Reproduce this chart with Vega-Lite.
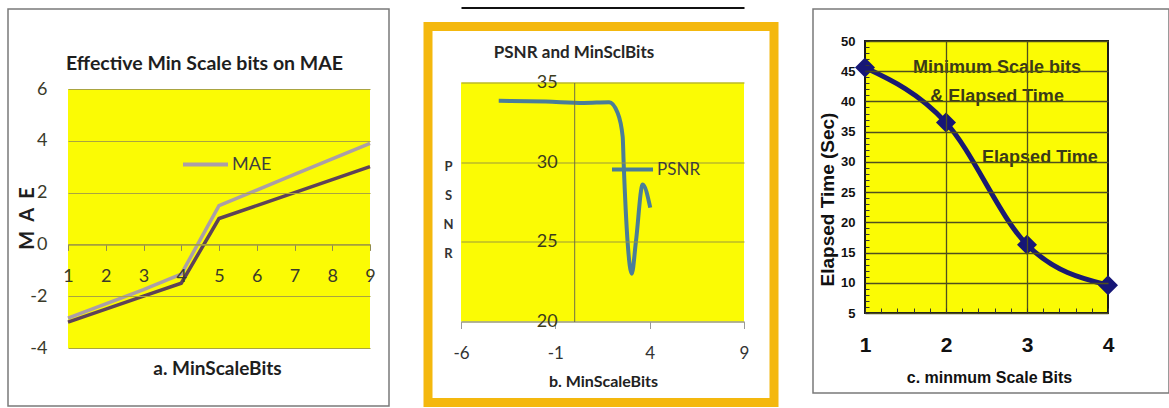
{
  "$schema": "https://vega.github.io/schema/vega-lite/v6.json",
  "background": "#ffffff",
  "padding": {"left": 7, "top": 3, "right": 0, "bottom": 0},
  "spacing": 33,
  "resolve": {"scale": {"color": "independent"}, "legend": {"color": "independent"}},
  "config": {
    "view": {"stroke": null},
    "axis": {"labelFlush": false, "labelOverlap": false}
  },
  "hconcat": [
    {
      "width": 381,
      "height": 397,
      "view": {"fill": "#ffffff", "stroke": "#7a7a7a", "strokeWidth": 1.5},
      "title": {"text": "Effective Min Scale bits on MAE", "frame": "group", "anchor": "middle", "dx": 6, "offset": -74, "baseline": "middle", "font": "Lato", "fontSize": 19.5, "fontWeight": "bold", "color": "#1e1e1e"},
      "encoding": {
        "x": {"field": "bits", "type": "quantitative",
          "scale": {"domain": [1, 9], "range": [60, 362], "nice": false, "zero": false},
          "axis": {"title": "a. MinScaleBits", "zindex": 1, "offset": -161.6, "values": [1, 2, 3, 4, 5, 6, 7, 8, 9], "grid": false,
            "domainColor": "#a39e3c", "domainWidth": 1.5, "tickColor": "#8f8a50", "tickSize": 6, "tickWidth": 1,
            "labelPadding": 17, "labelFont": "Lato", "labelFontSize": 18, "labelColor": "#3a3a2a", "labelExpr": "datum.value + ''",
            "titleFont": "Lato", "titleFontSize": 19, "titleFontWeight": "bold", "titleColor": "#1e1e1e",
            "titleX": 209, "titleY": 124, "titleBaseline": "middle"}},
        "y": {"field": "mae", "type": "quantitative",
          "scale": {"domain": [-4, 6], "range": [339, 80], "nice": false, "zero": false},
          "axis": {"title": "M\u00a0\u00a0A\u00a0\u00a0E", "zindex": 1, "offset": -60, "values": [-4, -2, 0, 2, 4, 6], "grid": true, "gridColor": "#aaa441", "gridWidth": 1.2,
            "domain": false, "ticks": false, "labelPadding": 21, "labelFont": "Lato", "labelFontSize": 18, "labelColor": "#3a3a2a", "labelExpr": "datum.value + ''",
            "titleFont": "Lato", "titleFontSize": 20, "titleFontWeight": "bold", "titleColor": "#1e1e1e",
            "titleX": -41, "titleY": 209, "titleBaseline": "middle"}}
      },
      "layer": [
        {
          "data": {"values": [{"bits": 1, "bits2": 9, "mae": -4, "mae2": 6}]},
          "mark": {"type": "rect", "fill": "#fbfb04"},
          "encoding": {"x2": {"field": "bits2"}, "y2": {"field": "mae2"}}
        },
        {
          "data": {"values": [
            {"series": "MAE", "bits": 1, "mae": -2.85},
            {"series": "MAE", "bits": 2, "mae": -2.3},
            {"series": "MAE", "bits": 3, "mae": -1.75},
            {"series": "MAE", "bits": 4, "mae": -1.15},
            {"series": "MAE", "bits": 5, "mae": 1.5},
            {"series": "MAE", "bits": 6, "mae": 2.1},
            {"series": "MAE", "bits": 7, "mae": 2.7},
            {"series": "MAE", "bits": 8, "mae": 3.3},
            {"series": "MAE", "bits": 9, "mae": 3.9},
            {"series": "MAE (2)", "bits": 1, "mae": -3.0},
            {"series": "MAE (2)", "bits": 2, "mae": -2.5},
            {"series": "MAE (2)", "bits": 3, "mae": -2.0},
            {"series": "MAE (2)", "bits": 4, "mae": -1.5},
            {"series": "MAE (2)", "bits": 5, "mae": 1.0},
            {"series": "MAE (2)", "bits": 6, "mae": 1.5},
            {"series": "MAE (2)", "bits": 7, "mae": 2.0},
            {"series": "MAE (2)", "bits": 8, "mae": 2.5},
            {"series": "MAE (2)", "bits": 9, "mae": 3.0}
          ]},
          "mark": {"type": "line", "strokeWidth": 3.5},
          "encoding": {
            "color": {"field": "series", "type": "nominal",
              "scale": {"domain": ["MAE", "MAE (2)"], "range": ["#ab9ea7", "#5e4258"]},
              "legend": {"orient": "none", "legendX": 173, "legendY": 131, "values": ["MAE"], "title": null,
                "symbolType": "stroke", "symbolSize": 2025, "symbolStrokeWidth": 4,
                "labelFont": "Lato", "labelFontSize": 18, "labelColor": "#3f3f3f", "labelOffset": 2, "padding": 0}}
          }
        }
      ]
    },
    {
      "spacing": -7.5,
      "vconcat": [
        {"width": 346, "height": 1, "data": {"values": []}, "mark": "point"},
        {
          "width": 346,
          "height": 376,
          "view": {"fill": "#ffffff", "stroke": "#f4b80e", "strokeWidth": 9},
          "title": {"text": "PSNR and MinSclBits", "frame": "group", "anchor": "middle", "dx": -27, "offset": -62, "baseline": "middle", "font": "Lato", "fontSize": 17, "fontWeight": "bold", "color": "#262626"},
          "resolve": {"axis": {"x": "independent", "y": "independent"}},
          "layer": [
            {
              "data": {"values": [{"bits": -6, "bits2": 9, "psnr": 20, "psnr2": 35}]},
              "mark": {"type": "rect", "fill": "#fbfb04"},
              "encoding": {
                "x": {"field": "bits", "type": "quantitative",
                  "scale": {"domain": [-6, 9], "range": [33, 316], "nice": false, "zero": false},
                  "axis": {"title": "b. MinScaleBits", "orient": "bottom", "zindex": 1, "offset": -81, "values": [-6, -1, 4, 9], "grid": false,
                    "domainColor": "#9a9a9a", "domainWidth": 1, "tickColor": "#9a9a9a", "tickSize": 7,
                    "labelPadding": 17, "labelFont": "Lato", "labelFontSize": 17, "labelColor": "#333333", "labelExpr": "datum.value + ''",
                    "titleFont": "Lato", "titleFontSize": 16, "titleFontWeight": "bold", "titleColor": "#222222",
                    "titleX": 175, "titleY": 60, "titleBaseline": "middle"}},
                "x2": {"field": "bits2"},
                "y": {"field": "psnr", "type": "quantitative",
                  "scale": {"domain": [20, 35], "range": [295, 56], "nice": false, "zero": false},
                  "axis": {"title": ["P", "S", "N", "R"], "orient": "left", "zindex": 1, "offset": -146.2, "values": [20, 25, 30, 35], "grid": true, "gridColor": "#9c9a3a", "gridWidth": 1.2,
                    "domain": true, "domainColor": "#6e6e48", "domainWidth": 1, "ticks": false,
                    "labelPadding": 17, "labelFont": "Lato", "labelFontSize": 18, "labelColor": "#3c3c1c",
                    "titleFont": "Lato", "titleFontSize": 13, "titleFontWeight": "bold", "titleColor": "#333333",
                    "titleAngle": 0, "titleLineHeight": 29, "titleX": -126.2, "titleY": 140, "titleBaseline": "middle", "titleAlign": "center"}},
                "y2": {"field": "psnr2"}
              }
            },
            {
              "data": {"values": [
                {"series": "PSNR", "bits": -4, "psnr": 33.85},
                {"series": "PSNR", "bits": -1.5, "psnr": 33.8},
                {"series": "PSNR", "bits": 0.5, "psnr": 33.72},
                {"series": "PSNR", "bits": 1.85, "psnr": 33.76},
                {"series": "PSNR", "bits": 2.3, "psnr": 33.1},
                {"series": "PSNR", "bits": 2.57, "psnr": 31.6},
                {"series": "PSNR", "bits": 2.62, "psnr": 30.0},
                {"series": "PSNR", "bits": 2.83, "psnr": 25.0},
                {"series": "PSNR", "bits": 3.05, "psnr": 23.0},
                {"series": "PSNR", "bits": 3.27, "psnr": 25.0},
                {"series": "PSNR", "bits": 3.63, "psnr": 28.6},
                {"series": "PSNR", "bits": 4.03, "psnr": 27.15}
              ]},
              "mark": {"type": "line", "interpolate": "monotone", "strokeWidth": 4},
              "encoding": {
                "x": {"field": "bits", "type": "quantitative",
                  "scale": {"domain": [-6, 9], "range": [33, 316], "nice": false, "zero": false},
                  "axis": {"orient": "top", "offset": 19, "zindex": 1, "title": null, "labels": false, "ticks": false, "grid": false, "domain": true, "domainColor": "#111111", "domainWidth": 2}},
                "y": {"field": "psnr", "type": "quantitative",
                  "scale": {"domain": [20, 35], "range": [295, 56], "nice": false, "zero": false}, "axis": null},
                "color": {"field": "series", "type": "nominal",
                  "scale": {"domain": ["PSNR"], "range": ["#4a7d99"]},
                  "legend": {"orient": "none", "legendX": 182, "legendY": 138, "title": null,
                    "symbolType": "stroke", "symbolSize": 1681, "symbolStrokeWidth": 4,
                    "labelFont": "Lato", "labelFontSize": 17, "labelColor": "#3f3f3f", "labelOffset": 2, "padding": 0}}
              }
            }
          ]
        }
      ]
    },
    {
      "width": 356,
      "height": 384,
      "view": {"fill": "#ffffff", "stroke": "#7a7a7a", "strokeWidth": 1.5},
      "resolve": {"axis": {"x": "independent", "y": "independent"}},
      "data": {"values": [
        {"bits": 1, "time": 45.6},
        {"bits": 2, "time": 36.5},
        {"bits": 3, "time": 16.3},
        {"bits": 4, "time": 9.6}
      ]},
      "layer": [
        {
          "data": {"values": [{"bits": 1, "bits2": 4, "time": 5, "time2": 50}]},
          "mark": {"type": "rect", "fill": "#fbfb04", "stroke": "#1a1a1a", "strokeWidth": 2},
          "encoding": {
            "x": {"field": "bits", "type": "quantitative",
              "scale": {"domain": [1, 4], "range": [52, 295], "nice": false, "zero": false},
              "axis": {"title": "c. minmum Scale Bits", "orient": "bottom", "zindex": 1, "offset": -80, "values": [1, 2, 3, 4],
                "grid": false, "domain": false, "ticks": false,
                "labelPadding": 21, "labelFont": "Liberation Sans", "labelFontSize": 21, "labelFontWeight": "bold", "labelColor": "#111111",
                "titleFont": "Liberation Sans", "titleFontSize": 16, "titleFontWeight": "bold", "titleColor": "#111111",
                "titleX": 176, "titleY": 64, "titleBaseline": "middle"}},
            "x2": {"field": "bits2"},
            "y": {"field": "time", "type": "quantitative",
              "scale": {"domain": [5, 50], "range": [304, 32], "nice": false, "zero": false},
              "axis": {"title": "Elapsed Time (Sec)", "orient": "left", "zindex": 1, "offset": -52, "values": [5, 10, 15, 20, 25, 30, 35, 40, 45, 50],
                "grid": true, "gridColor": "#4f4f1e", "gridWidth": 1.3, "domain": false, "ticks": false,
                "labelPadding": 10, "labelFont": "Liberation Sans", "labelFontSize": 13, "labelFontWeight": "bold", "labelColor": "#111111",
                "titleFont": "Liberation Sans", "titleFontSize": 19, "titleFontWeight": "bold", "titleColor": "#111111",
                "titleX": -38, "titleY": 190, "titleBaseline": "middle"}},
            "y2": {"field": "time2"}
          }
        },
        {
          "mark": {"type": "line", "interpolate": "monotone", "color": "#1a1a72", "strokeWidth": 5},
          "encoding": {
            "x": {"field": "bits", "type": "quantitative", "scale": {"domain": [1, 4], "range": [52, 295], "nice": false, "zero": false},
              "axis": {"orient": "top", "zindex": 1, "values": [2, 3], "grid": true, "gridColor": "#4f4f1e", "gridWidth": 1.3, "labels": false, "ticks": false, "domain": false, "title": null}},
            "y": {"field": "time", "type": "quantitative", "scale": {"domain": [5, 50], "range": [304, 32], "nice": false, "zero": false}, "axis": null}
          }
        },
        {
          "mark": {"type": "point", "shape": "diamond", "filled": true, "size": 400, "color": "#161676", "opacity": 1},
          "encoding": {
            "x": {"field": "bits", "type": "quantitative", "scale": {"domain": [1, 4], "range": [52, 295], "nice": false, "zero": false},
              "axis": {"orient": "bottom", "zindex": 1, "offset": -80, "values": [1, 1.2, 1.4, 1.6, 1.8, 2, 2.2, 2.4, 2.6, 2.8, 3, 3.2, 3.4, 3.6, 3.8, 4],
                "labels": false, "grid": false, "domain": false, "ticks": true, "tickSize": -5, "tickColor": "#333333", "title": null}},
            "y": {"field": "time", "type": "quantitative", "scale": {"domain": [5, 50], "range": [304, 32], "nice": false, "zero": false},
              "axis": {"orient": "left", "zindex": 1, "offset": -52, "values": [5, 6, 7, 8, 9, 10, 11, 12, 13, 14, 15, 16, 17, 18, 19, 20, 21, 22, 23, 24, 25, 26, 27, 28, 29, 30, 31, 32, 33, 34, 35, 36, 37, 38, 39, 40, 41, 42, 43, 44, 45, 46, 47, 48, 49, 50],
                "labels": false, "grid": false, "domain": false, "ticks": true, "tickSize": -4, "tickColor": "#333333", "title": null}}
          }
        },
        {
          "data": {"values": [
            {"bits": 2.63, "time": 45.5, "label": "Minimum Scale  bits"},
            {"bits": 2.63, "time": 40.7, "label": "& Elapsed Time"},
            {"bits": 3.16, "time": 30.6, "label": "Elapsed Time"}
          ]},
          "mark": {"type": "text", "font": "Liberation Sans", "fontSize": 18, "fontWeight": "bold", "color": "#3a3a18"},
          "encoding": {
            "x": {"field": "bits", "type": "quantitative", "scale": {"domain": [1, 4], "range": [52, 295], "nice": false, "zero": false}, "axis": null},
            "y": {"field": "time", "type": "quantitative", "scale": {"domain": [5, 50], "range": [304, 32], "nice": false, "zero": false}, "axis": null},
            "text": {"field": "label"}
          }
        }
      ]
    }
  ]
}
